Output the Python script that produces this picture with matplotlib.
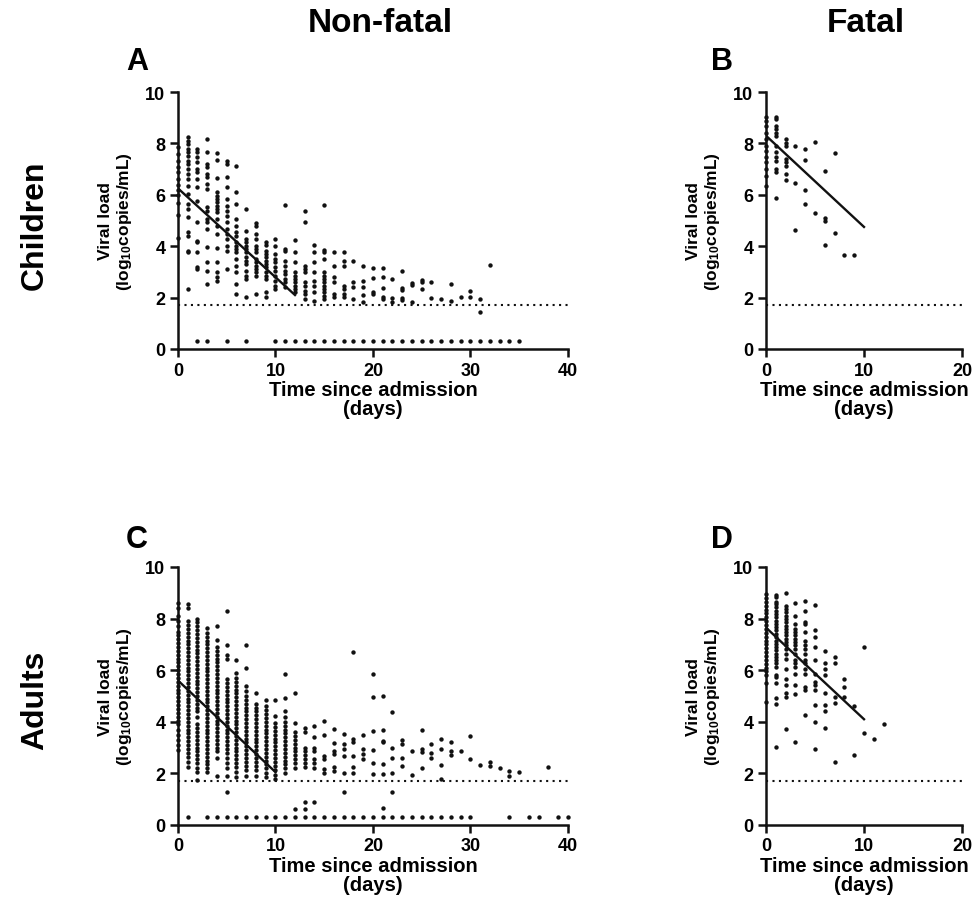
import matplotlib.pyplot as plt

plt.rcParams['font.family'] = ['Liberation Sans', 'DejaVu Sans']
plt.rcParams['font.weight'] = 'bold'
plt.rcParams['axes.labelweight'] = 'bold'
plt.rcParams['mathtext.fontset'] = 'custom'
plt.rcParams['mathtext.default'] = 'bf'
plt.rcParams['mathtext.bf'] = 'Liberation Sans:bold'

# limit of detection and value plotted for undetectable samples
lod = 1.7
undetect = 0.3

# panel A: children, non-fatal
a_days = list(range(0, 20)) + list(range(20, 33))
a_vals = [
    [7.85, 7.6, 7.3, 7.1, 6.9, 6.6, 6.4, 6.2, 6.0, 5.7, 5.2, 4.3],
    [8.24, 8.1, 7.98, 7.78, 7.65, 7.52, 7.33, 7.2, 7.0, 6.8, 6.61, 6.36, 6.03, 5.64, 5.45, 5.12, 4.54, 4.41, 3.83, 3.76, 2.33],
    [7.78, 7.65, 7.46, 7.26, 7.0, 6.87, 6.61, 6.29, 5.77, 4.93, 4.22, 4.15, 3.76, 3.18, 3.11],
    [8.17, 7.68, 7.2, 7.07, 6.81, 6.68, 6.42, 6.23, 5.51, 5.38, 5.06, 4.93, 4.67, 3.96, 3.4, 3.05, 2.53],
    [7.63, 7.37, 6.64, 6.1, 5.97, 5.84, 5.71, 5.58, 5.45, 5.32, 5.06, 4.8, 4.47, 3.92, 3.37, 2.98, 2.79, 2.66],
    [7.33, 7.2, 6.68, 6.29, 5.84, 5.58, 5.38, 5.19, 4.93, 4.67, 4.47, 4.28, 4.02, 3.83, 3.11],
    [7.13, 6.1, 5.64, 5.06, 4.8, 4.54, 4.41, 4.15, 4.02, 3.89, 3.76, 3.5, 3.24, 2.98, 2.53, 2.14],
    [5.45, 4.6, 4.28, 4.15, 4.02, 3.89, 3.76, 3.57, 3.44, 3.31, 3.05, 2.85, 2.72, 2.01],
    [4.9, 4.8, 4.47, 4.28, 4.02, 3.89, 3.76, 3.5, 3.37, 3.24, 3.11, 2.98, 2.85, 2.14],
    [4.18, 4.05, 3.83, 3.7, 3.57, 3.44, 3.31, 3.18, 2.98, 2.85, 2.72, 2.2, 2.01],
    [4.28, 4.02, 3.7, 3.5, 3.37, 3.18, 3.05, 2.85, 2.66, 2.46, 2.33],
    [5.62, 3.89, 3.83, 3.44, 3.24, 3.05, 2.92, 2.72, 2.59, 2.4],
    [4.24, 3.76, 3.37, 3.01, 2.85, 2.72, 2.59, 2.46, 2.33, 2.2],
    [5.38, 4.93, 3.24, 3.11, 2.98, 2.59, 2.46, 2.27, 2.14, 1.95],
    [4.05, 3.76, 3.37, 2.98, 2.66, 2.46, 2.2, 1.88],
    [5.62, 3.87, 3.76, 3.5, 2.98, 2.85, 2.72, 2.59, 2.46, 2.33, 2.2, 2.08, 1.95],
    [3.76, 3.24, 2.79, 2.59, 2.14, 2.01],
    [3.76, 3.44, 3.24, 2.46, 2.33, 2.14, 2.01],
    [3.44, 2.59, 2.4, 1.95],
    [3.24, 2.66, 2.4, 2.1, 1.82],
    [3.15, 2.75, 2.2, 2.14],
    [3.15, 2.8, 2.36, 2.01, 1.95],
    [2.72, 1.98, 1.82],
    [3.05, 2.36, 2.3, 1.98, 1.91],
    [2.57, 2.5, 1.82],
    [2.68, 2.62, 2.33],
    [2.59, 1.98],
    [1.95],
    [2.54, 1.88],
    [2.01],
    [2.27, 2.01],
    [1.95, 1.43],
    [3.28],
]
a_undetect_days = [2, 3, 5, 7] + list(range(10, 36))
a_fit = ([0, 12], [6.25, 2.1])

# panel B: children, fatal
b_days = list(range(0, 10))
b_vals = [
    [9.04, 8.87, 8.68, 8.42, 8.16, 7.9, 7.71, 7.46, 7.26, 7.0, 6.75, 6.36],
    [9.04, 8.93, 8.68, 8.55, 8.42, 8.29, 7.9, 7.65, 7.46, 7.33, 7.0, 6.88, 5.87],
    [8.16, 8.03, 7.9, 7.39, 7.26, 7.13, 6.81, 6.58],
    [7.9, 6.45, 4.63],
    [7.8, 7.35, 6.2, 5.66],
    [8.06, 5.3],
    [6.94, 5.1, 4.97, 4.05],
    [7.62, 4.52],
    [3.66],
    [3.66],
]
b_undetect_days = []
b_fit = ([0, 10], [8.3, 4.75])

# panel C: adults, non-fatal
c_days = list(range(0, 36)) + [38]
c_vals = [
    [8.6, 8.4, 8.1, 7.9, 7.7, 7.5, 7.35, 7.2, 7.05, 6.9, 6.75, 6.6, 6.45, 6.3, 6.15, 6.0, 5.85, 5.7, 5.55, 5.4,
     5.25, 5.1, 4.95, 4.8, 4.65, 4.5, 4.35, 4.2, 4.05, 3.9, 3.7, 3.5, 3.3, 3.1, 2.9],
    [8.55, 8.4, 7.9, 7.75, 7.6, 7.45, 7.3, 7.15, 7.0, 6.85, 6.7, 6.55, 6.4, 6.25, 6.1, 5.95, 5.8, 5.65, 5.5, 5.35,
     5.2, 5.05, 4.9, 4.75, 4.6, 4.45, 4.3, 4.15, 4.0, 3.85, 3.7, 3.55, 3.4, 3.25, 3.1, 2.95, 2.8, 2.65, 2.45, 2.25],
    [7.98, 7.85, 7.7, 7.55, 7.4, 7.25, 7.1, 6.95, 6.8, 6.65, 6.5, 6.35, 6.2, 6.05, 5.9, 5.75, 5.6, 5.45, 5.3, 5.15,
     5.0, 4.85, 4.7, 4.55, 4.4, 4.2, 3.9, 3.75, 3.6, 3.45, 3.3, 3.15, 3.0, 2.85, 2.7, 2.55, 2.4, 2.2, 2.05, 1.75],
    [7.65, 7.45, 7.3, 7.15, 7.0, 6.85, 6.7, 6.55, 6.4, 6.25, 6.1, 5.95, 5.8, 5.65, 5.5, 5.35, 5.2, 5.05, 4.9, 4.75,
     4.6, 4.45, 4.3, 4.15, 4.0, 3.85, 3.7, 3.55, 3.4, 3.25, 3.1, 2.95, 2.8, 2.65, 2.5, 2.35, 2.2, 2.05],
    [7.72, 7.18, 6.9, 6.75, 6.6, 6.45, 6.3, 6.15, 6.0, 5.85, 5.7, 5.55, 5.4, 5.25, 5.1, 4.95, 4.8, 4.65, 4.5, 4.35,
     4.2, 4.05, 3.9, 3.75, 3.6, 3.45, 3.3, 3.15, 3.0, 2.85, 2.6, 1.9],
    [8.3, 6.99, 6.6, 6.45, 5.65, 5.5, 5.35, 5.2, 5.05, 4.9, 4.75, 4.6, 4.45, 4.3, 4.15, 4.0, 3.85, 3.7, 3.55, 3.4,
     3.25, 3.1, 2.95, 2.8, 2.6, 2.4, 2.2, 1.9, 1.26],
    [6.41, 5.9, 5.7, 5.55, 5.4, 5.25, 5.1, 4.95, 4.8, 4.65, 4.5, 4.35, 4.2, 4.05, 3.9, 3.75, 3.6, 3.45, 3.3, 3.15,
     3.0, 2.85, 2.7, 2.55, 2.4, 2.25, 2.05, 1.85],
    [6.99, 6.09, 5.4, 5.2, 5.0, 4.85, 4.7, 4.55, 4.4, 4.25, 4.1, 3.95, 3.8, 3.65, 3.5, 3.35, 3.2, 3.05, 2.9, 2.75,
     2.6, 2.45, 2.3, 2.15, 1.9],
    [5.12, 4.7, 4.55, 4.4, 4.25, 4.1, 3.95, 3.8, 3.65, 3.5, 3.35, 3.2, 3.05, 2.9, 2.75, 2.6, 2.45, 2.3, 2.15, 1.9],
    [4.86, 4.6, 4.45, 4.3, 4.15, 4.0, 3.85, 3.7, 3.55, 3.4, 3.25, 3.1, 2.95, 2.8, 2.65, 2.5, 2.35, 2.2, 2.0, 1.85],
    [4.83, 4.22, 3.95, 3.8, 3.65, 3.5, 3.35, 3.2, 3.05, 2.9, 2.75, 2.6, 2.45, 2.3, 2.15, 1.95, 1.8],
    [5.87, 4.93, 4.4, 4.2, 4.0, 3.85, 3.7, 3.55, 3.4, 3.25, 3.1, 2.95, 2.8, 2.65, 2.5, 2.35, 2.2, 2.0],
    [5.1, 3.97, 3.6, 3.45, 3.3, 3.15, 3.0, 2.85, 2.7, 2.55, 2.4, 2.2, 0.62],
    [3.77, 3.6, 3.0, 2.85, 2.7, 2.55, 2.4, 2.25, 0.88, 0.62],
    [3.84, 3.41, 3.0, 2.85, 2.55, 2.4, 2.2, 0.88],
    [4.03, 3.5, 2.68, 2.55, 2.17, 2.03],
    [3.74, 3.19, 2.87, 2.74, 2.23, 2.1],
    [3.52, 3.13, 2.93, 2.68, 2.03, 1.29],
    [6.7, 3.32, 3.22, 2.68, 2.23, 2.03],
    [3.47, 2.96, 2.77, 2.55],
    [5.86, 4.97, 3.64, 2.9, 2.42, 1.99],
    [4.99, 3.67, 3.25, 3.2, 2.36, 1.99, 0.66],
    [4.38, 2.99, 2.59, 2.02, 1.29],
    [3.28, 3.15, 2.59, 2.3],
    [2.86, 1.93],
    [3.67, 2.96, 2.83, 2.19],
    [3.15, 2.8, 2.6],
    [3.32, 2.95, 2.33, 1.8],
    [3.23, 2.85, 2.7],
    [2.86],
    [3.44, 2.57],
    [2.33],
    [2.46, 2.27],
    [2.21],
    [2.08, 1.9],
    [2.06],
    [2.24],
]
c_undetect_days = [1] + list(range(3, 31)) + [34, 36, 37, 39, 40]
c_fit = ([0, 10], [5.6, 2.05])

# panel D: adults, fatal
d_days = list(range(0, 13))
d_vals = [
    [8.95, 8.8, 8.65, 8.5, 8.35, 8.2, 8.05, 7.9, 7.75, 7.6, 7.45, 7.3, 7.15, 7.0, 6.85, 6.7, 6.55, 6.4, 6.25, 6.1,
     5.95, 5.8, 5.5, 4.75],
    [8.91, 8.82, 8.63, 8.56, 8.44, 8.31, 8.18, 8.05, 7.92, 7.79, 7.67, 7.54, 7.41, 7.28, 7.15, 7.03, 6.9, 6.77,
     6.64, 6.51, 6.38, 6.26, 6.13, 5.81, 5.74, 5.49, 4.91, 4.69, 3.03],
    [9.01, 8.5, 8.37, 8.24, 8.12, 7.99, 7.86, 7.73, 7.6, 7.47, 7.35, 7.22, 7.09, 6.96, 6.83, 6.64, 6.45, 6.06,
     5.64, 5.42, 5.1, 4.97, 3.72],
    [8.6, 8.12, 7.79, 7.6, 7.47, 7.35, 7.22, 7.09, 6.96, 6.83, 6.64, 6.38, 6.26, 6.13, 5.87, 5.42, 5.06, 3.2],
    [8.69, 8.28, 7.86, 7.79, 7.47, 7.15, 6.96, 6.83, 6.64, 6.38, 6.26, 6.06, 5.87, 5.36, 5.23, 4.27],
    [8.53, 7.54, 7.28, 6.9, 6.38, 5.87, 5.55, 5.42, 5.23, 4.65, 4.01, 2.96],
    [6.73, 6.26, 6.06, 5.81, 5.13, 4.65, 4.4, 3.76],
    [6.51, 6.28, 4.97, 4.72, 2.45],
    [5.65, 5.33, 4.97],
    [4.62, 2.71],
    [6.9, 3.55],
    [3.35],
    [3.9],
]
d_undetect_days = []
d_fit = ([0, 10], [7.65, 4.1])

fig = plt.figure(figsize=(9.79, 9.20), dpi=100)

W, H = 979, 920


def make_axes(x0, x1, ytop, ybot):
    return fig.add_axes([x0 / W, 1 - ybot / H, (x1 - x0) / W, (ybot - ytop) / H])


def draw_panel(ax, days, vals, undetect_days, fit, xmax, xticks):
    xs, ys = [], []
    for d, col in zip(days, vals):
        for v in col:
            xs.append(d)
            ys.append(v)
    for d in undetect_days:
        xs.append(d)
        ys.append(undetect)
    ax.scatter(xs, ys, s=10, color='#111111', linewidths=0, clip_on=False, zorder=3)
    ax.plot(fit[0], fit[1], color='#111111', lw=1.7, zorder=4)
    ax.plot([0, xmax], [lod, lod], color='#111111', lw=1.5, linestyle=(0, (1, 2.1)), zorder=2)
    ax.set_xlim(0, xmax)
    ax.set_ylim(0, 10)
    ax.set_xticks(xticks)
    ax.set_yticks([0, 2, 4, 6, 8, 10])
    for s in ['top', 'right']:
        ax.spines[s].set_visible(False)
    for s in ['left', 'bottom']:
        ax.spines[s].set_linewidth(1.8)
        ax.spines[s].set_color('#111111')
    ax.tick_params(width=1.8, length=6, labelsize=13, pad=3, color='#111111')
    ax.set_xlabel('Time since admission\n(days)', fontsize=14.5, labelpad=1, linespacing=1.0)
    ax.set_ylabel('Viral load\n(log$_{10}$copies/mL)', fontsize=12.5, labelpad=8, linespacing=1.15)


ax_a = make_axes(178, 568, 93, 350)
ax_b = make_axes(766, 962, 93, 350)
ax_c = make_axes(178, 568, 568, 826)
ax_d = make_axes(766, 962, 568, 826)

draw_panel(ax_a, a_days, a_vals, a_undetect_days, a_fit, 40, [0, 10, 20, 30, 40])
draw_panel(ax_b, b_days, b_vals, b_undetect_days, b_fit, 20, [0, 10, 20])
draw_panel(ax_c, c_days, c_vals, c_undetect_days, c_fit, 40, [0, 10, 20, 30, 40])
draw_panel(ax_d, d_days, d_vals, d_undetect_days, d_fit, 20, [0, 10, 20])

# column headers, row labels and panel letters
fig.text(380 / W, 1 - 23 / H, 'Non-fatal', fontsize=24, ha='center', va='center')
fig.text(866 / W, 1 - 23 / H, 'Fatal', fontsize=24, ha='center', va='center')
fig.text(35 / W, 1 - 225 / H, 'Children', fontsize=23, rotation=90, ha='center', va='center')
fig.text(35 / W, 1 - 700 / H, 'Adults', fontsize=23, rotation=90, ha='center', va='center')
for letter, x, y in [('A', 137, 62), ('B', 722, 62), ('C', 137, 540), ('D', 722, 540)]:
    fig.text(x / W, 1 - y / H, letter, fontsize=22, ha='center', va='center')

fig.savefig('out.png', dpi=100)
